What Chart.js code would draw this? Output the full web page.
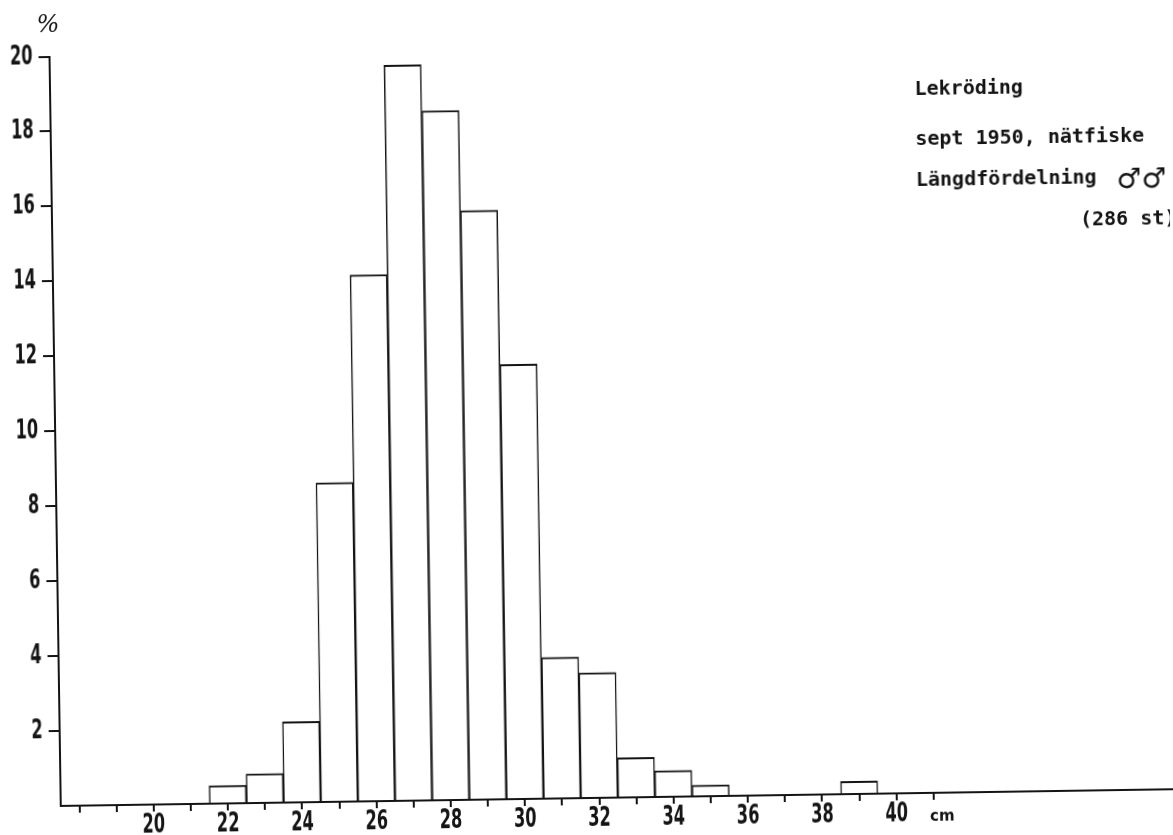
<!DOCTYPE html>
<html><head><meta charset="utf-8">
<script src="https://cdn.jsdelivr.net/npm/chart.js@4/dist/chart.umd.min.js"></script>
<style>
html,body{margin:0;padding:0;background:#fff;overflow:hidden;}
#wrap{width:1173px;height:835px;position:relative;overflow:hidden;background:#fff;}
canvas{position:absolute;left:0;top:0;transform:rotate(-0.86deg);transform-origin:586.5px 417.5px;}
</style></head><body>
<div id="wrap"><canvas id="c" width="1173" height="835"></canvas></div>
<script>
// length classes (cm) and share of fish (%)
const lengthClasses = [22, 23, 24, 25, 26, 27, 28, 29, 30, 31, 32, 33, 34, 35, 36, 37, 38, 39];
const percentValues = [0.48, 0.78, 2.15, 8.52, 14.05, 19.63, 18.40, 15.72, 11.60, 3.77, 3.34, 1.06, 0.70, 0.30, 0, 0, 0, 0.34];
const yTickValues = [0, 2, 4, 6, 8, 10, 12, 14, 16, 18, 20];
const xLabelClasses = [20, 22, 24, 26, 28, 30, 32, 34, 36, 38, 40];
const binEdges = [18.5, 19.5, 20.5, 21.5, 22.5, 23.5, 24.5, 25.5, 26.5, 27.5, 28.5, 29.5, 30.5, 31.5, 32.5, 33.5, 34.5, 35.5, 36.5, 37.5, 38.5, 39.5, 40.5];
const titleLines = ['Lekröding', 'sept 1950, nätfiske', 'Längdfördelning'];
const maleSymbols = '♂♂';
const countLabel = '(286 st)';
const yUnit = '%';
const xUnit = 'cm';

const INK = '#141414';
const TICK_FONT = 'bold 27px "DejaVu Sans", sans-serif';
const SQUEEZE = 0.6;

function squeezedText(c, text, x, y, align) {
  c.save();
  c.translate(x, y);
  c.scale(SQUEEZE, 1);
  c.textAlign = align;
  c.fillText(text, 0, 0);
  c.restore();
}

const textPlugin = {
  id: 'scanText',
  beforeDraw(chart) {
    const c = chart.ctx;
    c.save();
    c.fillStyle = '#fff';
    c.fillRect(0, 0, chart.width, chart.height);
    c.restore();
  },
  afterDraw(chart) {
    const c = chart.ctx;
    const xs = chart.scales.x, ys = chart.scales.y;
    c.save();
    c.fillStyle = INK;
    // tick labels, positioned by the chart's own scales
    c.font = TICK_FONT;
    c.textBaseline = 'middle';
    yTickValues.forEach(v => {
      if (v === 0) return;
      squeezedText(c, String(v), ys.left + ys.width - 11 - 6, ys.getPixelForValue(v), 'right');
    });
    xLabelClasses.forEach(v => {
      squeezedText(c, String(v), xs.getPixelForValue(v), xs.top + 21, 'center');
    });
    // annotation text
    c.textAlign = 'left';
    c.textBaseline = 'alphabetic';
    c.font = 'bold 20px "DejaVu Sans Mono", monospace';
    c.fillText(titleLines[0], 919.5, 100);
    c.fillText(titleLines[1], 919.5, 150);
    c.fillText(titleLines[2], 919.5, 191);
    c.fillText(countLabel, 1083, 233);
    c.font = '28px "DejaVu Sans", sans-serif';
    c.fillText(maleSymbols, 1120, 196);
    c.font = 'bold 15px "DejaVu Sans", sans-serif';
    c.fillText(xUnit, 924, 826);
    c.font = 'italic 24px "DejaVu Serif", serif';
    c.textAlign = 'center';
    c.fillText(yUnit, 54, 24);
    c.restore();
  }
};

new Chart(document.getElementById('c'), {
  type: 'bar',
  data: {
    datasets: [{
      data: lengthClasses.map((v, i) => ({ x: v, y: percentValues[i] })),
      backgroundColor: '#ffffff',
      borderColor: INK,
      borderWidth: { top: 2, left: 1.5, right: 1.5, bottom: 0 },
      borderSkipped: 'start',
      barThickness: 'flex',
      barPercentage: 1,
      categoryPercentage: 1
    }]
  },
  options: {
    responsive: false,
    animation: false,
    devicePixelRatio: 1,
    layout: { padding: { top: 48.5, left: 0, right: 0, bottom: 0 } },
    plugins: { legend: { display: false }, tooltip: { enabled: false }, title: { display: false } },
    scales: {
      x: {
        type: 'linear',
        min: 17.5,
        max: 47.6,
        offset: false,
        afterBuildTicks: (scale) => {
          scale.ticks = binEdges.map(v => ({ value: v }));
        },
        afterFit: (scale) => { scale.height = 37; },
        ticks: { display: false, autoSkip: false, maxRotation: 0, minRotation: 0 },
        grid: {
          drawOnChartArea: false,
          drawTicks: true,
          tickLength: 7,
          lineWidth: 2,
          tickColor: INK
        },
        border: { display: true, color: INK, width: 2 }
      },
      y: {
        type: 'linear',
        min: 0,
        max: 20,
        afterBuildTicks: (scale) => { scale.ticks = yTickValues.map(v => ({ value: v })); },
        afterFit: (scale) => { scale.width = 55; },
        ticks: { display: false },
        grid: {
          drawOnChartArea: false,
          drawTicks: true,
          tickLength: 11,
          lineWidth: 2,
          tickColor: (ctx) => (ctx.tick && ctx.tick.value === 0) ? 'rgba(0,0,0,0)' : INK
        },
        border: { display: true, color: INK, width: 2 }
      }
    }
  },
  plugins: [textPlugin]
});
</script>
</body></html>
